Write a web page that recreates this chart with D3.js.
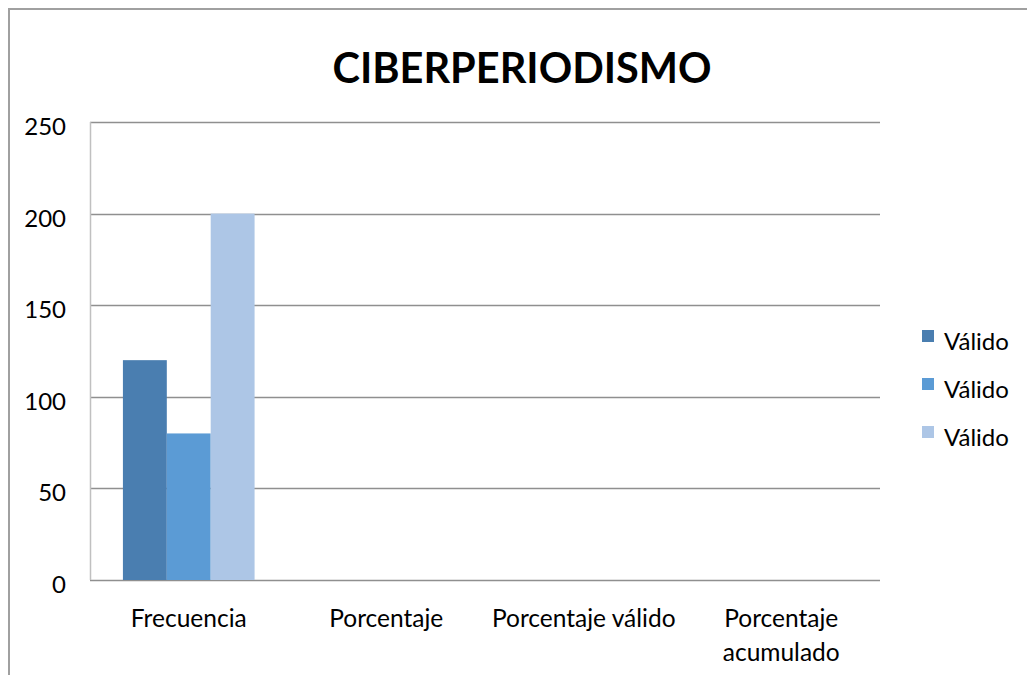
<!DOCTYPE html>
<html>
<head>
<meta charset="utf-8">
<script src="https://cdn.jsdelivr.net/npm/d3@7"></script>
<style>
  body { margin: 0; background: #fff; }
  svg { display: block; font-family: Lato, Calibri, sans-serif; }
</style>
</head>
<body>
<svg width="1027" height="675"></svg>
<script>
// data
const categories = ['Frecuencia', 'Porcentaje', 'Porcentaje válido', 'Porcentaje\nacumulado']
const seriesNames = ['Válido', 'Válido', 'Válido']
const seriesValues = [
  [120, null, null, null],
  [80, null, null, null],
  [200, null, null, null]
]
const yTicks = [0, 50, 100, 150, 200, 250]
const colors = ['#4a7eb0', '#5b9bd5', '#adc6e6']

const svg = d3.select('svg')

// outer chart frame
svg.append('path')
  .attr('d', 'M9,700 V9 H1040')
  .attr('fill', 'none')
  .attr('stroke', '#a0a0a0')
  .attr('stroke-width', 2)

const plot = { left: 90, top: 122, right: 880, bottom: 580 }

const x = d3.scaleBand()
  .domain(d3.range(categories.length))
  .range([plot.left, plot.right])
  .paddingInner(0)

const y = d3.scaleLinear()
  .domain([0, 250])
  .range([plot.bottom, plot.top])

// gridlines
svg.append('g')
  .selectAll('line')
  .data(yTicks)
  .join('line')
    .attr('x1', plot.left)
    .attr('x2', plot.right)
    .attr('y1', d => Math.round(y(d)) + 0.5)
    .attr('y2', d => Math.round(y(d)) + 0.5)
    .attr('stroke', '#8f8f8f')
    .attr('stroke-width', 1.5)

// left edge of plot area
svg.append('line')
  .attr('x1', plot.left + 0.5).attr('x2', plot.left + 0.5)
  .attr('y1', plot.top).attr('y2', plot.bottom)
  .attr('stroke', '#c0c0c0')
  .attr('stroke-width', 1.5)

// y tick labels
svg.append('g')
  .selectAll('text')
  .data(yTicks)
  .join('text')
    .attr('x', 66)
    .attr('y', d => y(d) + 13)
    .attr('text-anchor', 'end')
    .attr('font-size', 24)
    .attr('fill', '#000')
    .text(d => d)

// bars: group width = band * 3 / 4.5 (gap width 150%)
const groupW = x.bandwidth() * 3 / 4.5
const xs = d3.scaleBand()
  .domain(d3.range(seriesValues.length))
  .range([0, groupW])

const barData = []
seriesValues.forEach((vals, s) => {
  vals.forEach((v, c) => {
    if (v != null) barData.push({ s, c, v })
  })
})

svg.append('g')
  .selectAll('rect')
  .data(barData)
  .join('rect')
    .attr('x', d => x(d.c) + (x.bandwidth() - groupW) / 2 + xs(d.s))
    .attr('y', d => y(d.v))
    .attr('width', xs.bandwidth())
    .attr('height', d => y(0) - y(d.v))
    .attr('fill', d => colors[d.s])

// category labels
const catG = svg.append('g')
categories.forEach((c, i) => {
  const lines = c.split('\n')
  const t = catG.append('text')
    .attr('text-anchor', 'middle')
    .attr('font-size', 24.5)
    .attr('fill', '#000')
  lines.forEach((ln, j) => {
    t.append('tspan')
      .attr('x', x(i) + x.bandwidth() / 2)
      .attr('y', 627 + j * 34)
      .text(ln)
  })
})

// title
svg.append('text')
  .attr('x', 522)
  .attr('y', 83)
  .attr('text-anchor', 'middle')
  .attr('font-size', 41.5)
  .attr('font-weight', 'bold')
  .attr('fill', '#000')
  .text('CIBERPERIODISMO')

// legend
const legend = svg.append('g')
  .selectAll('g')
  .data(seriesNames)
  .join('g')
    .attr('transform', (d, i) => `translate(922, ${330 + i * 48})`)
legend.append('rect')
  .attr('width', 12)
  .attr('height', 12)
  .attr('fill', (d, i) => colors[i])
legend.append('text')
  .attr('x', 22)
  .attr('y', 20)
  .attr('font-size', 24)
  .attr('fill', '#000')
  .text(d => d)
</script>
</body>
</html>
